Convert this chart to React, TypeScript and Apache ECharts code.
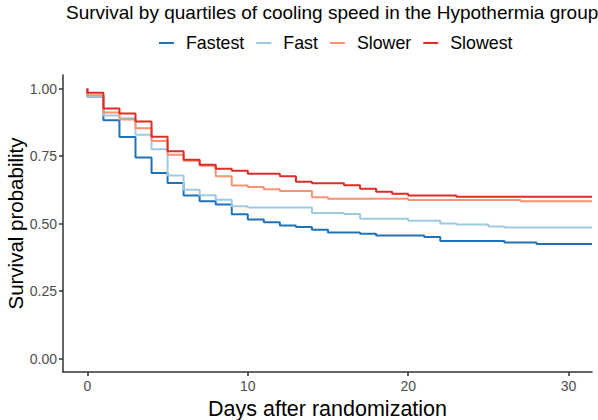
import React, { useEffect, useRef } from "react";
import * as echarts from "echarts";

const days = [0, 1, 2, 3, 4, 5, 6, 7, 8, 9, 10, 11, 12, 13, 14, 15, 16, 17, 18, 19, 20, 21, 22, 23, 24, 25, 26, 27, 28, 29, 30];
const lastDay = 31.46;

const fastest = [0.969, 0.882, 0.82, 0.744, 0.687, 0.65, 0.604, 0.582, 0.57, 0.534, 0.515, 0.505, 0.493, 0.487, 0.477, 0.467, 0.467, 0.462, 0.456, 0.456, 0.456, 0.45, 0.435, 0.435, 0.435, 0.435, 0.43, 0.43, 0.424, 0.424, 0.424];
const fast = [0.969, 0.9, 0.89, 0.829, 0.775, 0.678, 0.625, 0.605, 0.588, 0.564, 0.559, 0.559, 0.559, 0.559, 0.539, 0.539, 0.535, 0.518, 0.518, 0.518, 0.51, 0.51, 0.5, 0.496, 0.496, 0.489, 0.485, 0.485, 0.485, 0.485, 0.485];
const slower = [0.975, 0.911, 0.885, 0.853, 0.806, 0.755, 0.732, 0.714, 0.675, 0.641, 0.635, 0.627, 0.62, 0.62, 0.597, 0.592, 0.592, 0.592, 0.592, 0.592, 0.587, 0.587, 0.587, 0.587, 0.587, 0.587, 0.587, 0.582, 0.582, 0.582, 0.582];
const slowest = [0.984, 0.926, 0.907, 0.878, 0.821, 0.768, 0.736, 0.718, 0.703, 0.695, 0.684, 0.684, 0.675, 0.655, 0.649, 0.649, 0.642, 0.629, 0.618, 0.61, 0.604, 0.604, 0.604, 0.599, 0.599, 0.599, 0.599, 0.599, 0.599, 0.599, 0.599];

const groupNames = ["Fastest", "Fast", "Slower", "Slowest"];
const groupValues = [fastest, fast, slower, slowest];
const groupColors = ["#2171b5", "#9ecae1", "#fc9272", "#de2d26"];

const xTicks = [0, 10, 20, 30];
const yTicks = [0, 0.25, 0.5, 0.75, 1];

const FONT = "'Liberation Sans', Arial, Helvetica, sans-serif";

function buildSeriesData(vals: number[]) {
  const pts: number[][] = [[0, 1]];
  days.forEach((d, i) => pts.push([d, vals[i]]));
  pts.push([lastDay, vals[vals.length - 1]]);
  return pts;
}

export default function App() {
  const ref = useRef<HTMLDivElement>(null);
  useEffect(() => {
    document.body.style.margin = "0";
    if (!ref.current) return;
    const chart = echarts.init(ref.current, undefined, { renderer: "svg" });
    chart.setOption({
      animation: false,
      backgroundColor: "#ffffff",
      textStyle: { fontFamily: FONT },
      title: {
        text: "Survival by quartiles of cooling speed in the Hypothermia group",
        left: 61,
        top: -2,
        textStyle: { fontFamily: FONT, fontSize: 19, fontWeight: "normal", color: "#000000" },
      },
      legend: {
        top: 29,
        left: 154,
        icon: "rect",
        itemWidth: 15,
        itemHeight: 2,
        itemGap: 12,
        data: groupNames,
        textStyle: { fontFamily: FONT, fontSize: 17.8, color: "#000000", padding: [0, 0, 0, 7] },
      },
      grid: { left: 63, right: 6, top: 75, bottom: 48, containLabel: false, outerBoundsMode: "none" },
      xAxis: {
        type: "value",
        min: -1.52,
        max: lastDay,
        name: "Days after randomization",
        nameLocation: "middle",
        nameGap: 17,
        nameTextStyle: { fontFamily: FONT, fontSize: 21.5, color: "#000000" },
        axisLine: { show: true, onZero: false, lineStyle: { color: "#333333", width: 1.5 } },
        axisTick: { show: true, length: 4, customValues: xTicks, lineStyle: { color: "#333333", width: 1.5 } },
        axisLabel: { customValues: xTicks, margin: 7, fontFamily: FONT, fontSize: 14, color: "#4d4d4d" },
        splitLine: { show: false },
      },
      yAxis: {
        type: "value",
        min: -0.05,
        max: 1.05,
        name: "Survival probability",
        nameLocation: "middle",
        nameGap: 37,
        nameMoveOverlap: false,
        nameTextStyle: { fontFamily: FONT, fontSize: 20.5, color: "#000000" },
        axisLine: { show: true, onZero: false, lineStyle: { color: "#333333", width: 1.5 } },
        axisTick: { show: true, length: 4, customValues: yTicks, lineStyle: { color: "#333333", width: 1.5 } },
        axisLabel: {
          customValues: yTicks,
          margin: 6,
          fontFamily: FONT,
          fontSize: 14,
          color: "#4d4d4d",
          formatter: (v: number) => v.toFixed(2),
        },
        splitLine: { show: false },
      },
      series: groupNames.map((name, i) => ({
        name,
        type: "line",
        step: "end",
        symbol: "none",
        color: groupColors[i],
        lineStyle: { width: 2, color: groupColors[i] },
        data: buildSeriesData(groupValues[i]),
        z: 2 + i,
      })),
    });
    return () => chart.dispose();
  }, []);
  return <div ref={ref} style={{ width: 598, height: 420 }} />;
}
